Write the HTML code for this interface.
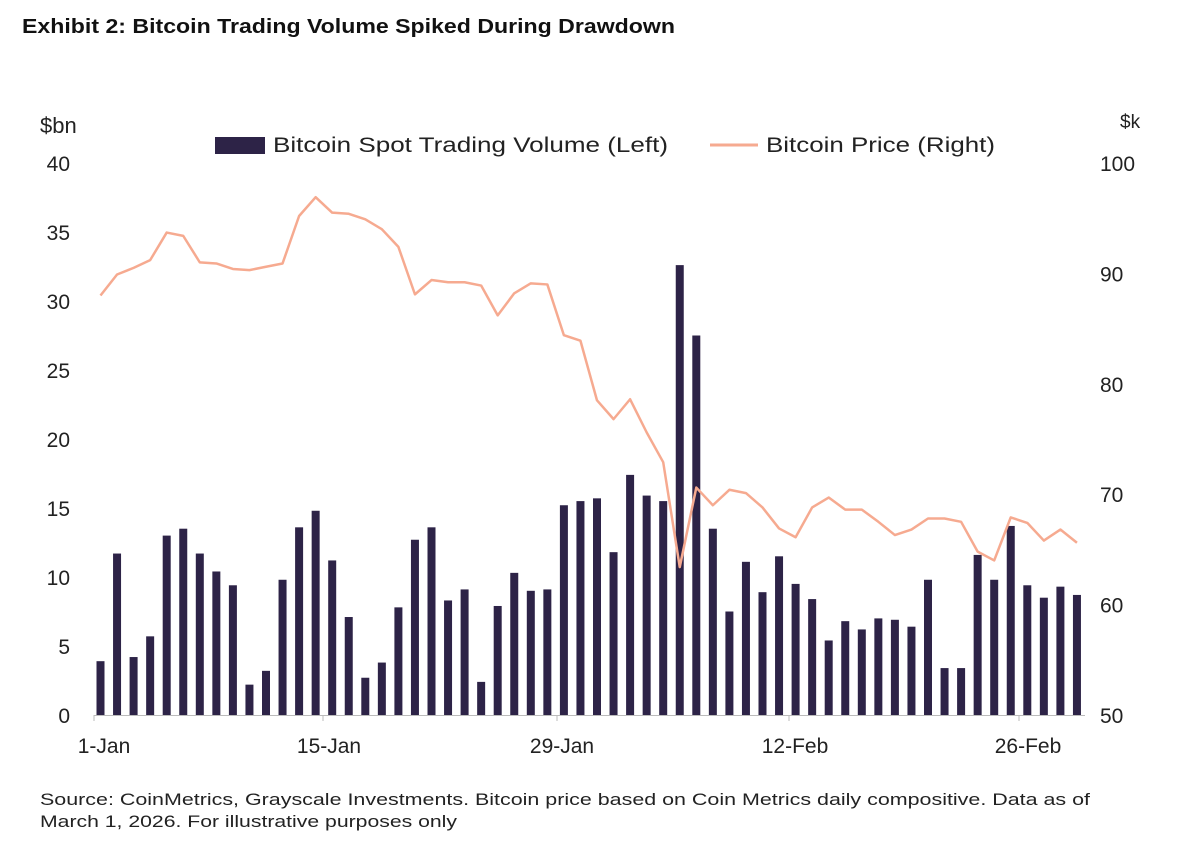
<!DOCTYPE html>
<html><head><meta charset="utf-8"><style>
body{margin:0;background:#fff;width:1177px;height:862px;overflow:hidden;font-family:"Liberation Sans",sans-serif;}
</style></head><body>
<svg width="1177" height="862" xmlns="http://www.w3.org/2000/svg" font-family="Liberation Sans, sans-serif">
<text x="22" y="33" font-size="20" font-weight="bold" fill="#111" textLength="653" lengthAdjust="spacingAndGlyphs">Exhibit 2: Bitcoin Trading Volume Spiked During Drawdown</text>
<text x="40" y="133" font-size="22" fill="#222">$bn</text>
<text x="1120" y="128" font-size="19" fill="#222">$k</text>
<rect x="215" y="137" width="50" height="17" fill="#2d2347"/>
<text x="273" y="152" font-size="21" fill="#222" textLength="395" lengthAdjust="spacingAndGlyphs">Bitcoin Spot Trading Volume (Left)</text>
<line x1="710" y1="145" x2="758" y2="145" stroke="#f6aa90" stroke-width="3"/>
<text x="766" y="152" font-size="21" fill="#222" textLength="229" lengthAdjust="spacingAndGlyphs">Bitcoin Price (Right)</text>
<g id="main"></g>
<line x1="94" y1="715.5" x2="1085" y2="715.5" stroke="#bbb" stroke-width="1"/>
<g font-size="21" fill="#222" text-anchor="middle">
<text x="104" y="753">1-Jan</text><text x="329" y="753">15-Jan</text><text x="562" y="753">29-Jan</text><text x="795" y="753">12-Feb</text><text x="1028" y="753">26-Feb</text>
</g>
<text x="40" y="805" font-size="17" fill="#222" textLength="1050" lengthAdjust="spacingAndGlyphs">Source: CoinMetrics, Grayscale Investments. Bitcoin price based on Coin Metrics daily compositive. Data as of</text>
<text x="40" y="827" font-size="17" fill="#222" textLength="417" lengthAdjust="spacingAndGlyphs">March 1, 2026. For illustrative purposes only</text>
</svg>
<script>
const vol=[3.9,11.7,4.2,5.7,13.0,13.5,11.7,10.4,9.4,2.2,3.2,9.8,13.6,14.8,11.2,7.1,2.7,3.8,7.8,12.7,13.6,8.3,9.1,2.4,7.9,10.3,9.0,9.1,15.2,15.5,15.7,11.8,17.4,15.9,15.5,32.6,27.5,13.5,7.5,11.1,8.9,11.5,9.5,8.4,5.4,6.8,6.2,7.0,6.9,6.4,9.8,3.4,3.4,11.6,9.8,13.7,9.4,8.5,9.3,8.7];
const pr=[88.0,89.9,90.5,91.2,93.7,93.4,91.0,90.9,90.4,90.3,90.6,90.9,95.2,96.9,95.5,95.4,94.9,94.0,92.4,88.1,89.4,89.2,89.2,88.9,86.2,88.2,89.1,89.0,84.4,83.9,78.5,76.8,78.6,75.6,72.9,63.4,70.6,69.0,70.4,70.1,68.8,66.9,66.1,68.8,69.7,68.6,68.6,67.5,66.3,66.8,67.8,67.8,67.5,64.8,64.0,67.9,67.4,65.8,66.8,65.6];
const g=document.getElementById("main");let s="";
const X=i=>100.5+16.55*i;
vol.forEach((v,i)=>{const h=v*13.8;s+=`<rect x="${X(i)-4}" y="${715-h}" width="8" height="${h}" fill="#2d2347"/>`;});
s+=`<polyline fill="none" stroke="#f6aa90" stroke-width="2.5" stroke-linejoin="round" points="${pr.map((p,i)=>X(i)+","+(715-(p-50)*11.04)).join(" ")}"/>`;
for(let k=0;k<=8;k++){const y=715-k*5*13.8;s+=`<text x="70" y="${y+8}" font-size="21" fill="#222" text-anchor="end">${k*5}</text>`;}
for(let k=0;k<=5;k++){const y=715-k*10*11.04;s+=`<text x="1100" y="${y+8}" font-size="21" fill="#222">${50+k*10}</text>`;}
[94,323,557,789,1019].forEach(x=>{s+=`<line x1="${x}" y1="715" x2="${x}" y2="721" stroke="#bbb"/>`;});
g.innerHTML=s;
</script>
</body></html>
